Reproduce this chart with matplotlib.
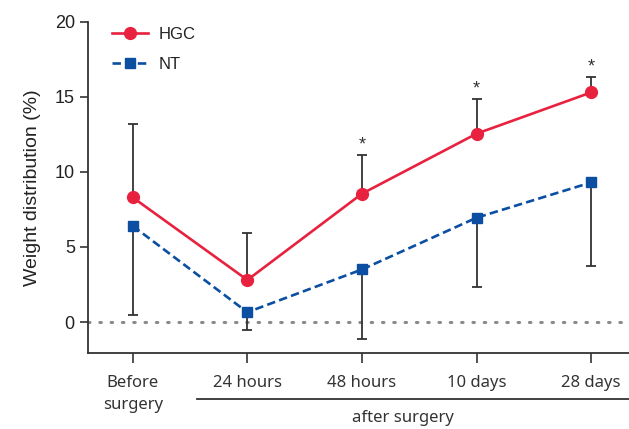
import matplotlib
matplotlib.use("Agg")
import matplotlib.pyplot as plt
from matplotlib.lines import Line2D

# data
groups = ["Before\nsurgery", "24 hours", "48 hours", "10 days", "28 days"]
hgc_mean = [8.3, 2.8, 8.55, 12.55, 15.3]
hgc_err = [4.9, 3.1, 2.6, 2.3, 1.05]
nt_mean = [6.4, 0.65, 3.5, 6.95, 9.3]
nt_err = [5.9, 1.2, 4.6, 4.6, 5.6]
signif = [False, False, True, True, True]

RED = "#E8213F"
BLUE = "#0B4EA2"
ERR = "#333333"

plt.rcParams["font.family"] = ["Liberation Sans", "DejaVu Sans"]

fig = plt.figure(figsize=(6.29, 4.29), dpi=100)
ax = fig.add_axes([0.14, 0.177, 0.86, 0.772])
xs = list(range(len(groups)))

# zero reference
ax.axhline(0, color="#8a8a8a", linestyle=(0, (0.5, 3.2)), linewidth=2.2,
           dash_capstyle="round", zorder=1)

# one-sided error bars: HGC up, NT down
ax.errorbar(xs, hgc_mean, yerr=[[0] * 5, hgc_err], fmt="none", ecolor=ERR,
            elinewidth=1.3, capsize=3.8, capthick=1.3, zorder=2)
ax.errorbar(xs, nt_mean, yerr=[nt_err, [0] * 5], fmt="none", ecolor=ERR,
            elinewidth=1.3, capsize=3.8, capthick=1.3, zorder=2)

ax.plot(xs, hgc_mean, color=RED, linewidth=1.9, marker="o", markersize=8.5,
        zorder=4, label="HGC")
ax.plot(xs, nt_mean, color=BLUE, linewidth=1.9, linestyle=(0, (3.2, 1.6)),
        marker="s", markersize=7.5, zorder=3, label="NT")

for x, m, e, s in zip(xs, hgc_mean, hgc_err, signif):
    if s:
        ax.annotate("*", (x, m + e), textcoords="offset points", xytext=(0, 1),
                    ha="center", va="bottom", fontsize=13, color=ERR)

ax.set_xlim(-0.39, 4.33)
ax.set_ylim(-2.07, 20)
ax.set_yticks([0, 5, 10, 15, 20])
ax.tick_params(axis="y", labelsize=13, length=6, width=1.2, color="#333333",
               labelcolor="#222222")
ax.set_xticks(xs)
ax.set_xticklabels(groups, fontsize=12, family=["Noto Sans", "DejaVu Sans"],
                   color="#333333", linespacing=1.5)
ax.tick_params(axis="x", length=7, width=1.2, color="#333333", pad=9)
for side in ("top", "right"):
    ax.spines[side].set_visible(False)
for side in ("left", "bottom"):
    ax.spines[side].set_linewidth(1.3)
    ax.spines[side].set_color("#333333")

ax.set_ylabel("Weight distribution (%)", fontsize=14, color="#222222", labelpad=10)

# "after surgery" bracket under the post-op groups
fig.add_artist(Line2D([197 / 629, 1.0], [1 - 399 / 429] * 2,
                      color="#333333", linewidth=1.3))
fig.text(403 / 629, 1 - 418 / 429, "after surgery", ha="center", va="center",
         fontsize=12, family=["Noto Sans", "DejaVu Sans"], color="#333333")

leg = ax.legend(loc="upper left", bbox_to_anchor=(0.016, 1.03), frameon=False,
                fontsize=12, handlelength=2.2, labelspacing=0.9,
                handletextpad=0.6)
for t in leg.get_texts():
    t.set_color("#222222")

fig.savefig("out.png", dpi=100)
